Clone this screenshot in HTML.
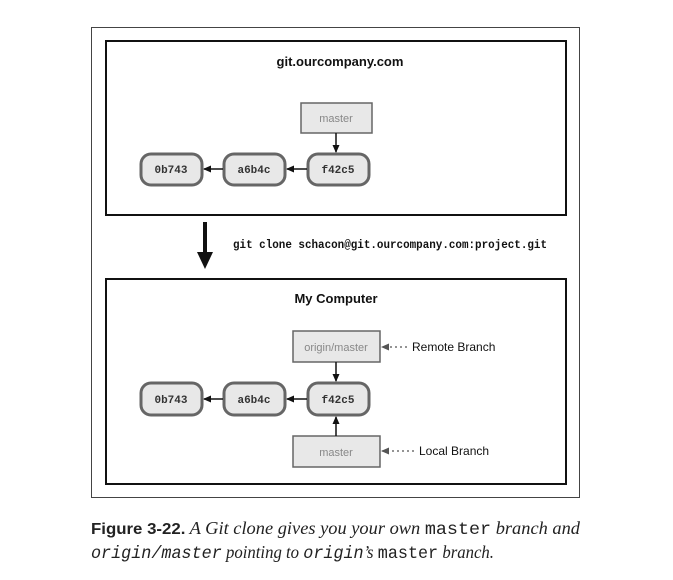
<!DOCTYPE html>
<html><head><meta charset="utf-8"><style>
body{margin:0;background:#fff;width:673px;height:580px;overflow:hidden}
</style></head><body>
<svg width="673" height="580" xmlns="http://www.w3.org/2000/svg" style="position:absolute;left:0;top:0">
<defs>
<marker id="ah" markerWidth="8" markerHeight="8" refX="7" refY="4" orient="auto" markerUnits="userSpaceOnUse">
<path d="M0,0.5 L8,4 L0,7.5 z" fill="#111"/></marker>
<marker id="ag" markerWidth="8" markerHeight="8" refX="7" refY="4" orient="auto" markerUnits="userSpaceOnUse">
<path d="M0,0.5 L8,4 L0,7.5 z" fill="#555"/></marker>
</defs>
<rect x="91.5" y="27.5" width="488" height="470" fill="none" stroke="#444" stroke-width="1"/>
<rect x="106" y="41" width="460" height="174" fill="none" stroke="#111" stroke-width="2"/>
<rect x="106" y="279" width="460" height="205" fill="none" stroke="#111" stroke-width="2"/>
<g font-family="Liberation Sans, sans-serif" font-weight="bold" font-size="13" text-anchor="middle" fill="#111">
<text x="340" y="66">git.ourcompany.com</text>
<text x="336" y="303">My Computer</text>
</g>
<g stroke="#666" stroke-width="1.5" fill="#e8e8e8">
<rect x="301" y="103" width="71" height="30"/>
<rect x="293" y="331" width="87" height="31"/>
<rect x="293" y="436" width="87" height="31"/>
</g>
<g stroke="#666" stroke-width="3" fill="#e8e8e8">
<rect x="141" y="154" width="61" height="31" rx="10"/>
<rect x="224" y="154" width="61" height="31" rx="10"/>
<rect x="308" y="154" width="61" height="31" rx="10"/>
<rect x="141" y="383" width="61" height="32" rx="10"/>
<rect x="224" y="383" width="61" height="32" rx="10"/>
<rect x="308" y="383" width="61" height="32" rx="10"/>
</g>
<g font-family="Liberation Sans, sans-serif" font-size="11" fill="#888" text-anchor="middle">
<text x="336" y="122">master</text>
<text x="336" y="351">origin/master</text>
<text x="336" y="456">master</text>
</g>
<g font-family="Liberation Mono, monospace" font-weight="bold" font-size="11" fill="#333" text-anchor="middle">
<text x="171" y="173">0b743</text><text x="254" y="173">a6b4c</text><text x="338" y="173">f42c5</text>
<text x="171" y="403">0b743</text><text x="254" y="403">a6b4c</text><text x="338" y="403">f42c5</text>
</g>
<g stroke="#111" stroke-width="1.5">
<line x1="336" y1="133" x2="336" y2="152" marker-end="url(#ah)"/>
<line x1="223" y1="169" x2="204" y2="169" marker-end="url(#ah)"/>
<line x1="307" y1="169" x2="287" y2="169" marker-end="url(#ah)"/>
<line x1="336" y1="362" x2="336" y2="381" marker-end="url(#ah)"/>
<line x1="223" y1="399" x2="204" y2="399" marker-end="url(#ah)"/>
<line x1="307" y1="399" x2="287" y2="399" marker-end="url(#ah)"/>
<line x1="336" y1="436" x2="336" y2="417" marker-end="url(#ah)"/>
</g>
<line x1="205" y1="222" x2="205" y2="256" stroke="#111" stroke-width="4"/>
<path d="M197,252 L213,252 L205,269 z" fill="#111"/>
<g stroke="#555" stroke-width="1.2" stroke-dasharray="2,3">
<line x1="407" y1="347" x2="382" y2="347" marker-end="url(#ag)"/>
<line x1="414" y1="451" x2="382" y2="451" marker-end="url(#ag)"/>
</g>
<g font-family="Liberation Sans, sans-serif" font-size="12" fill="#111">
<text x="412" y="351">Remote Branch</text>
<text x="419" y="455">Local Branch</text>
</g>
<text x="233" y="248" font-family="Liberation Mono, monospace" font-weight="bold" font-size="11.5" fill="#111" textLength="314" lengthAdjust="spacingAndGlyphs">git clone schacon@git.ourcompany.com:project.git</text>
<text x="91" y="534" font-family="Liberation Serif, serif" font-style="italic" font-size="17.5" fill="#222" textLength="489" lengthAdjust="spacingAndGlyphs"><tspan font-family="Liberation Sans Narrow, Liberation Sans, sans-serif" font-style="normal" font-weight="bold" font-size="16">Figure 3-22.</tspan> A Git clone gives you your own <tspan font-family="Liberation Mono, monospace" font-style="normal">master</tspan> branch and</text>
<text x="91" y="558" font-family="Liberation Serif, serif" font-style="italic" font-size="17.5" fill="#222" textLength="403" lengthAdjust="spacingAndGlyphs"><tspan font-family="Liberation Mono, monospace">origin/master</tspan> pointing to <tspan font-family="Liberation Mono, monospace">origin</tspan>’s <tspan font-family="Liberation Mono, monospace" font-style="normal">master</tspan> branch.</text>
</svg>
</body></html>
